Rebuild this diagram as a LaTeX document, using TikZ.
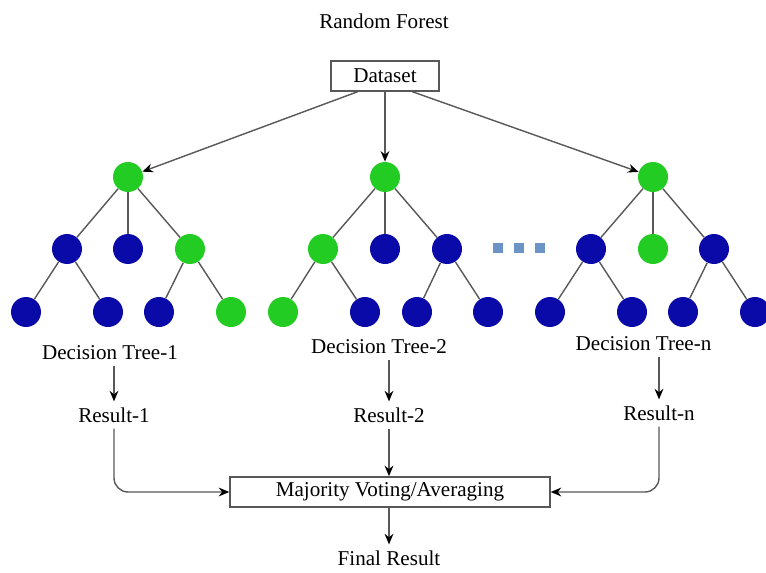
\documentclass[tikz,border=0pt]{standalone}
\usepackage{fontspec}
\setmainfont{Liberation Serif}
\usetikzlibrary{arrows.meta, positioning, calc}
\definecolor{rfgreen}{HTML}{22CC22}
\definecolor{rfblue}{HTML}{0A0AA8}
\definecolor{rfgray}{HTML}{585858}
\definecolor{rfdots}{HTML}{6B93C4}

\begin{document}
\begin{tikzpicture}[
  every node/.style={font=\fontsize{12}{14}\selectfont},
  gnode/.style={circle, minimum size=0.6cm, inner sep=0pt, fill=rfgreen},
  bnode/.style={circle, minimum size=0.6cm, inner sep=0pt, fill=rfblue},
  boxed/.style={rectangle, draw=rfgray, line width=0.8pt, minimum height=0.6cm, align=center},
  branch/.style={rfgray, line width=0.8pt},
  dotsq/.style={rectangle, minimum size=0.2cm, inner sep=0pt, fill=rfdots},
  arr/.style={-{Stealth[black, length=6pt, width=5pt]}, rfgray, line width=0.8pt},
]
\useasboundingbox (0,0) rectangle (15.32,-11.46);

% Title and data
\node (title) at (7.68, -0.42) {Random Forest};
\node[boxed, minimum width=2.16cm] (data) at (7.70, -1.52) {Dataset};

% Tree 1
\node[gnode] (r1) at (2.56, -3.54) {};
\node[bnode] (a1) at (1.34, -4.98) {};
\node[bnode] (b1) at (2.56, -4.98) {};
\node[gnode] (c1) at (3.80, -4.98) {};
\node[bnode] (a1l) at (0.52, -6.24) {};
\node[bnode] (a1r) at (2.16, -6.24) {};
\node[bnode] (c1l) at (3.18, -6.24) {};
\node[gnode] (c1r) at (4.62, -6.24) {};

% Tree 2
\node[gnode] (r2) at (7.70, -3.54) {};
\node[gnode] (a2) at (6.46, -4.98) {};
\node[bnode] (b2) at (7.70, -4.98) {};
\node[bnode] (c2) at (8.94, -4.98) {};
\node[gnode] (a2l) at (5.66, -6.24) {};
\node[bnode] (a2r) at (7.30, -6.24) {};
\node[bnode] (c2l) at (8.34, -6.24) {};
\node[bnode] (c2r) at (9.76, -6.24) {};

% Tree n
\node[gnode] (rn) at (13.06, -3.54) {};
\node[bnode] (an) at (11.82, -4.98) {};
\node[gnode] (bn) at (13.06, -4.98) {};
\node[bnode] (cn) at (14.28, -4.98) {};
\node[bnode] (anl) at (11.00, -6.24) {};
\node[bnode] (anr) at (12.64, -6.24) {};
\node[bnode] (cnl) at (13.66, -6.24) {};
\node[bnode] (cnr) at (15.10, -6.24) {};

% dots between trees
\node[dotsq] (d1) at (9.96, -4.96) {};
\node[dotsq] (d2) at (10.38, -4.96) {};
\node[dotsq] (d3) at (10.80, -4.96) {};

\foreach \t in {1,2,n} {
  \draw[branch] (r\t) -- (a\t);
  \draw[branch] (r\t) -- (b\t);
  \draw[branch] (r\t) -- (c\t);
  \draw[branch] (a\t) -- (a\t l);
  \draw[branch] (a\t) -- (a\t r);
  \draw[branch] (c\t) -- (c\t l);
  \draw[branch] (c\t) -- (c\t r);
}

% Labels and results
\node (dt1) at (2.20, -7.06) {Decision Tree-1};
\node (dt2) at (7.58, -6.94) {Decision Tree-2};
\node (dtn) at (12.87, -6.88) {Decision Tree-n};
\node (res1) at (2.28, -8.30) {Result-1};
\node (res2) at (7.78, -8.30) {Result-2};
\node (resn) at (13.18, -8.26) {Result-n};

\node[boxed, minimum width=6.4cm] (vote) at (7.80, -9.84) {Majority Voting/Averaging};
\node (final) at (7.78, -11.16) {Final Result};

\draw[arr] ($(data.south)!0.5!(data.south west)$) -- (r1);
\draw[arr] (data) -- (r2);
\draw[arr] ($(data.south)!0.5!(data.south east)$) -- (rn);

\draw[arr] (res1.north |- dt1.south) -- (res1);
\draw[arr] (res2.north |- dt2.south) -- (res2);
\draw[arr] (resn.north |- dtn.south) -- (resn);

\draw[arr, rounded corners=8pt] (res1) |- (vote);
\draw[arr] (res2) -- (res2 |- vote.north);
\draw[arr, rounded corners=8pt] (resn) |- (vote);
\draw[arr] (vote.south -| final) -- (final);

\end{tikzpicture}
\end{document}
